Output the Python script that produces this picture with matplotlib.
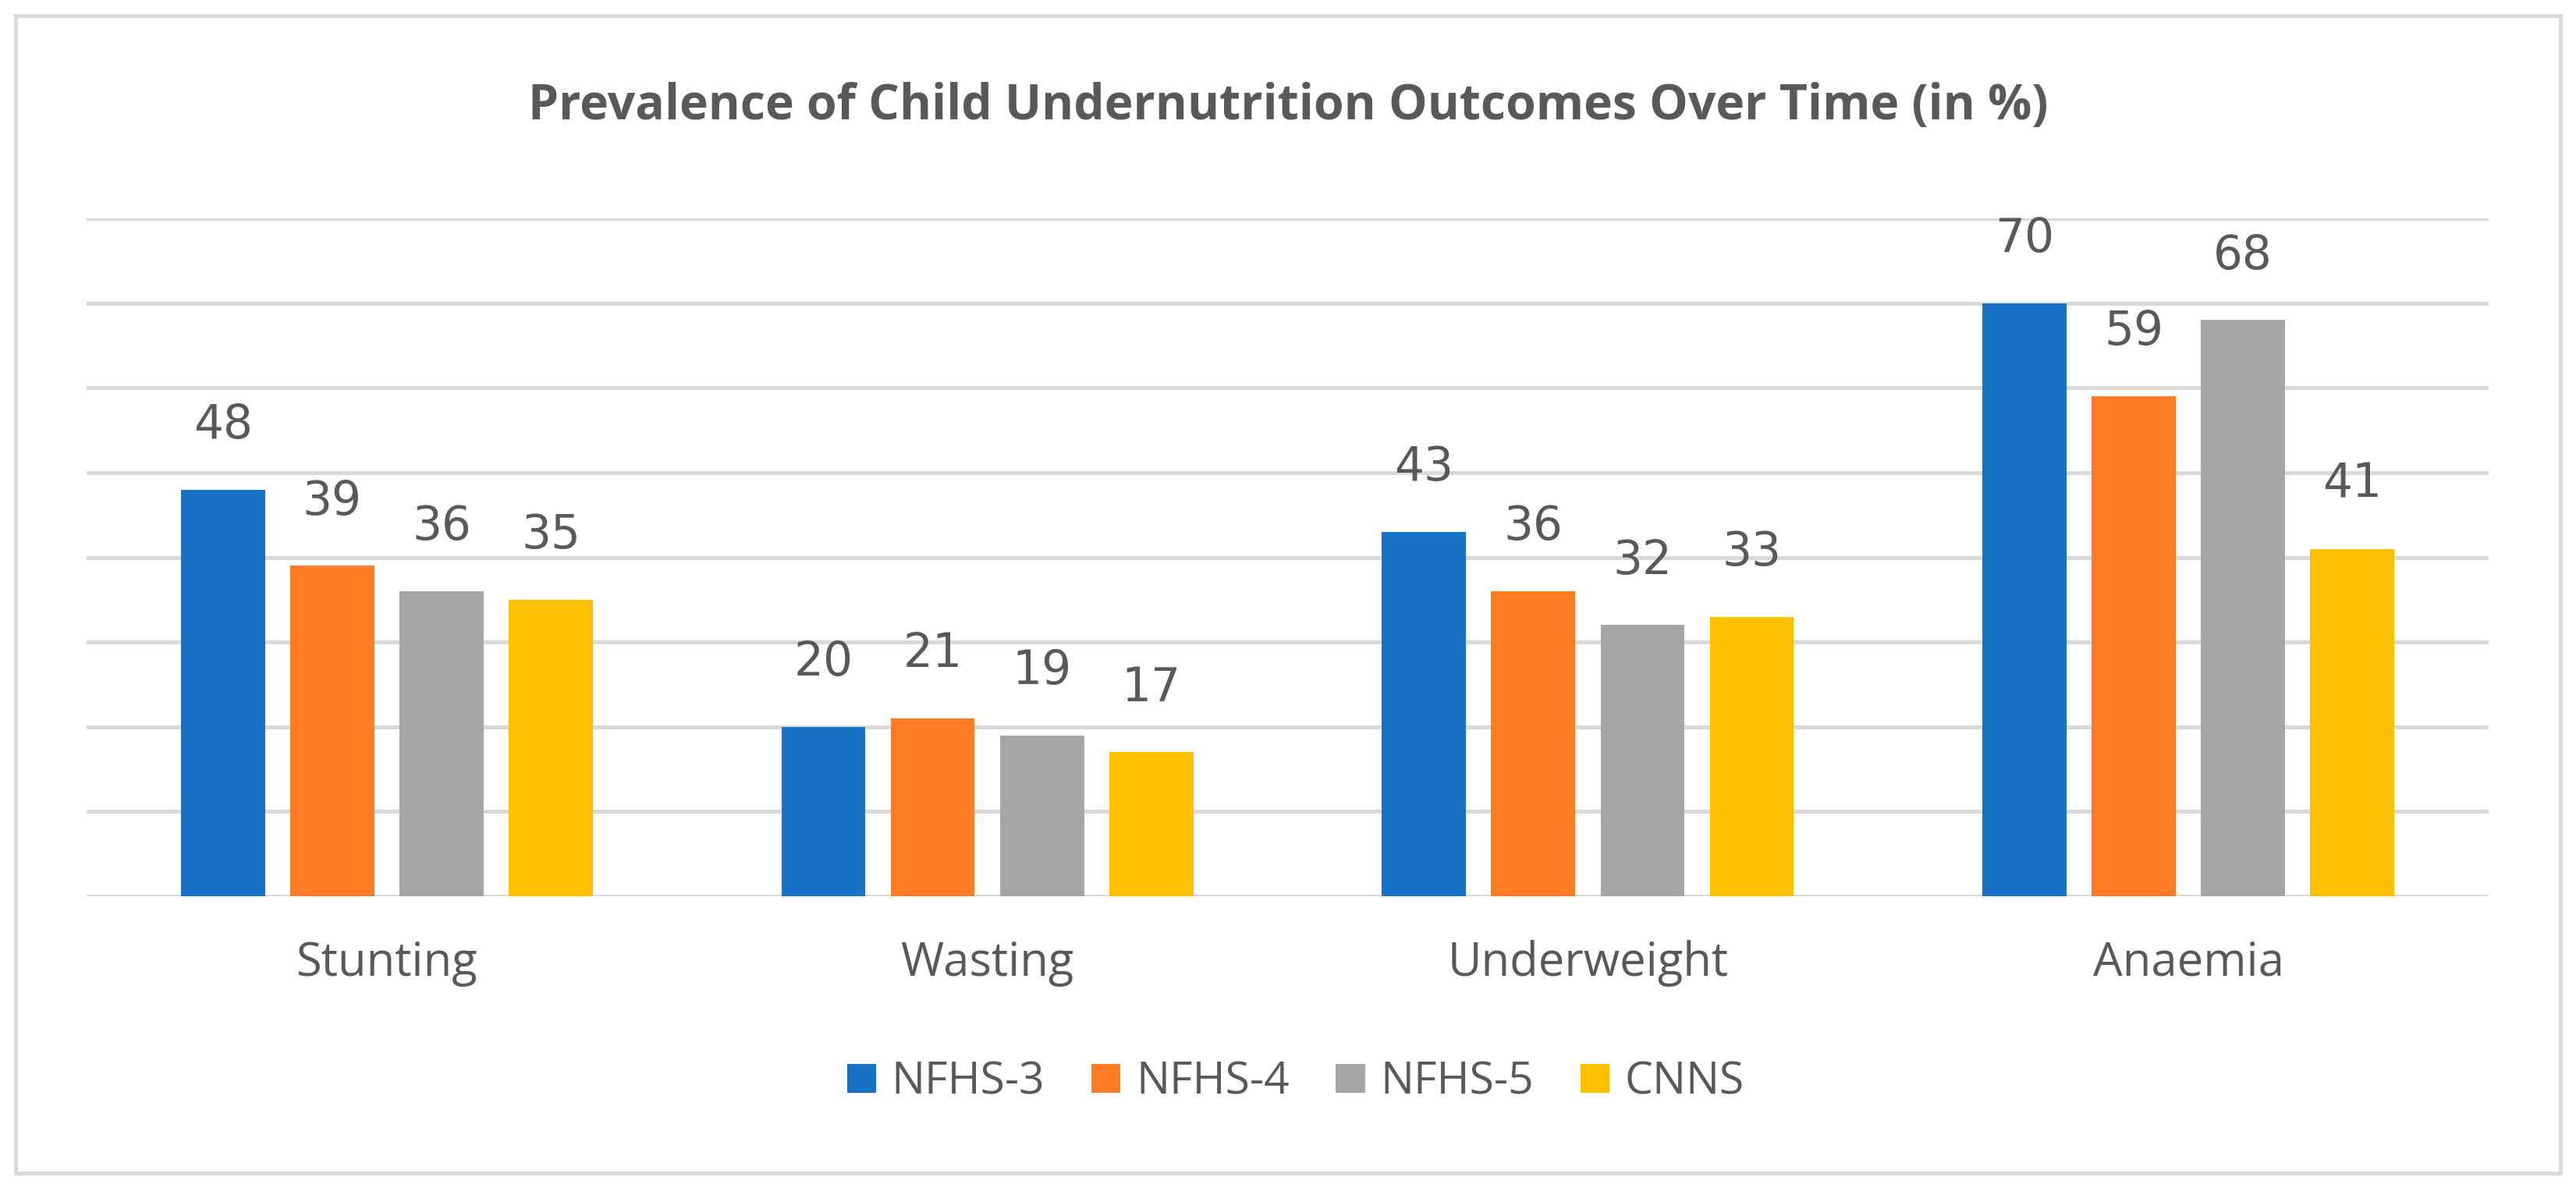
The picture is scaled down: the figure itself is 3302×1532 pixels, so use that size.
import matplotlib

matplotlib.use("Agg")
import matplotlib.pyplot as plt
import numpy as np
from matplotlib.patches import Rectangle

categories = ["Stunting", "Wasting", "Underweight", "Anaemia"]
series = ["NFHS-3", "NFHS-4", "NFHS-5", "CNNS"]
nfhs3 = [48, 20, 43, 70]
nfhs4 = [39, 21, 36, 59]
nfhs5 = [36, 19, 32, 68]
cnns = [35, 17, 33, 41]
colors = ["#1772C8", "#FF7C24", "#A6A6A6", "#FFC000"]

TEXT = "#595959"
GRID = "#D9D9D9"

fig = plt.figure(figsize=(33.02, 15.32), dpi=100)
ax = fig.add_axes([0.0336, 0.25, 0.9325, 0.5672])

x = np.arange(len(categories))
pitch = 0.182
width = 0.14
for idx, (name, vals) in enumerate(zip(series, [nfhs3, nfhs4, nfhs5, cnns])):
    pos = x + (idx - 1.5) * pitch
    bars = ax.bar(pos, vals, width=width, color=colors[idx], label=name, zorder=3)
    for b, v in zip(bars, vals):
        ax.annotate(f"{v}", (b.get_x() + b.get_width() / 2, v), xytext=(0, 38),
                    textcoords="offset points", ha="center", va="bottom",
                    fontsize=43, color=TEXT, family="DejaVu Sans")

ax.set_xlim(-0.5, len(categories) - 0.5)
ax.set_ylim(0, 80)
ax.set_yticks(np.arange(0, 81, 10))
ax.yaxis.grid(True, color=GRID, linewidth=3.6, zorder=0)
ax.tick_params(axis="y", left=False, labelleft=False)
ax.set_xticks(x)
ax.set_xticklabels(categories, fontsize=43, color=TEXT, family="Open Sans")
ax.tick_params(axis="x", length=0, pad=40)
for side in ["top", "right", "left", "bottom"]:
    ax.spines[side].set_visible(False)

fig.text(0.5, 0.911, "Prevalence of Child Undernutrition Outcomes Over Time (in %)",
         ha="center", va="center", fontsize=45, fontweight="bold", color=TEXT, family="Open Sans")

fig.legend(loc="center", bbox_to_anchor=(0.503, 0.094), ncol=4, frameon=False,
           prop={"family": "Open Sans", "size": 41}, labelcolor=TEXT,
           handlelength=0.65, handleheight=0.63, handletextpad=0.35, columnspacing=1.05)

fig.patches.append(Rectangle((0.0061, 0.018), 0.9878, 0.969, transform=fig.transFigure,
                             fill=False, edgecolor=GRID, linewidth=3.5))

fig.savefig("out.png", dpi=100, facecolor="white")
